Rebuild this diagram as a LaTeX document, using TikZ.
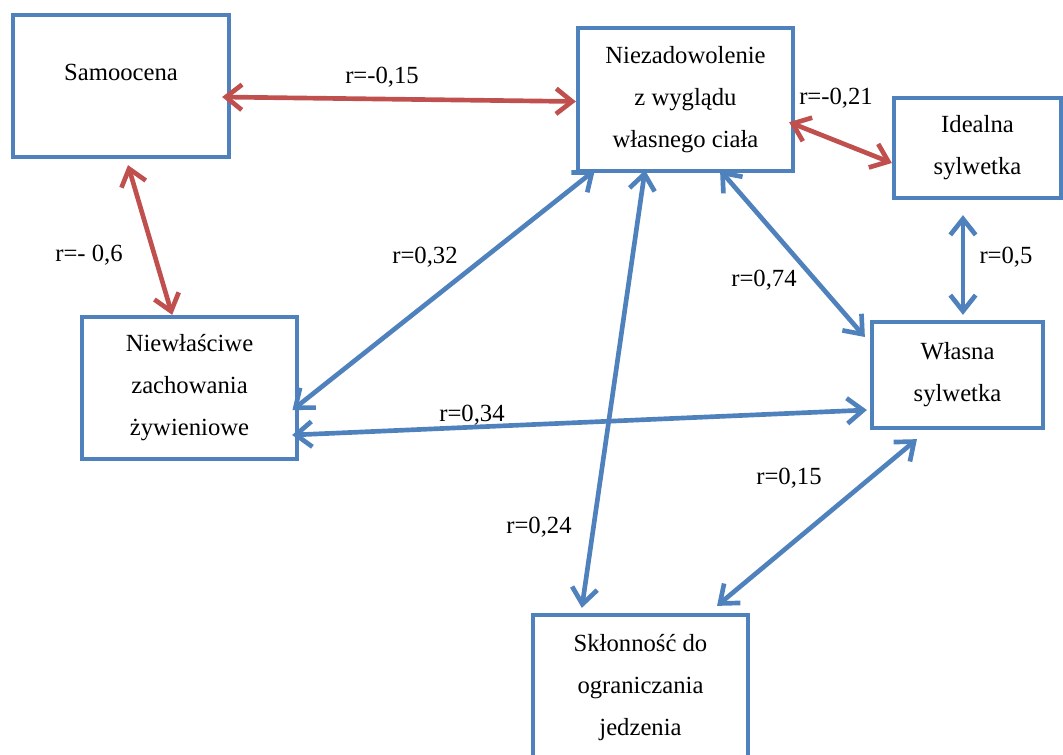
\documentclass[tikz,border=0pt]{standalone}
\usepackage{fontspec}
\setmainfont{Liberation Serif}
\usetikzlibrary{arrows.meta}
\definecolor{boxblue}{HTML}{4F81BD}
\definecolor{linkred}{HTML}{C0504D}
\begin{document}
\begin{tikzpicture}[x=0.75pt,y=-0.75pt,
        font=\fontsize{18.5}{31.5}\selectfont,
        box/.style={draw=boxblue,line width=3.2pt,align=center,inner sep=0pt},
        link/.style={line width=3.5pt,{Straight Barb[length=12pt,width=19pt]}-{Straight Barb[length=12pt,width=19pt]}},
        bluelink/.style={link,draw=boxblue},
        redlink/.style={link,draw=linkred}]
        \useasboundingbox (0,0) rectangle (1063,754);
        \node[box,minimum width=162pt,minimum height=106.5pt] (samo) at (121,86) {};
        \node (samotext) at (121,72) {Samoocena};
        \node[box,minimum width=161.25pt,minimum height=107.25pt] (niez) at (685.5,99.5) {Niezadowolenie\\z wyglądu\\własnego ciała};
        \node[box,minimum width=125.25pt,minimum height=75pt] (ideal) at (977.5,148) {Idealna\\sylwetka};
        \node[box,minimum width=161.25pt,minimum height=106.5pt] (niew) at (189.5,388) {Niewłaściwe\\zachowania\\żywieniowe};
        \node[box,minimum width=128.25pt,minimum height=79.5pt] (wlasna) at (957.5,375) {Własna\\sylwetka};
        \node[box,minimum width=161.25pt,minimum height=108.75pt] (sklon) at (640.5,687.5) {Skłonność do\\ograniczania\\jedzenia};
        \draw[redlink] ([xshift=-6.75pt,yshift=-8.25pt]samo.east) -- ([yshift=-1.5pt]niez.west);
        \draw[redlink] ([xshift=5.25pt,yshift=-4.5pt]samo.south) -- ([xshift=-13pt]niew.north);
        \draw[redlink] ([xshift=-4.5pt,yshift=-17pt]niez.east) -- ([yshift=-11.25pt]ideal.west);
        \draw[bluelink] ([xshift=-68pt,yshift=2.25pt]niez.south) -- ([xshift=-5pt,yshift=-16.5pt]niew.east);
        \draw[bluelink] ([xshift=-30.4pt,yshift=2.25pt]niez.south) -- ([xshift=-44pt,yshift=3.75pt]sklon.north);
        \draw[bluelink] ([xshift=25.9pt,yshift=2.25pt]niez.south) -- ([xshift=-3.75pt,yshift=28.5pt]wlasna.west);
        \draw[bluelink] ([xshift=-10.9pt,yshift=-11.25pt]ideal.south) -- ([xshift=-10.9pt,yshift=3.75pt]ideal.south |- wlasna.north);
        \draw[bluelink] ([xshift=-5.25pt,yshift=-35.25pt]niew.east) -- ([xshift=-2.25pt,yshift=-26.25pt]wlasna.west);
        \draw[bluelink] ([xshift=-30.4pt,yshift=-6.75pt]wlasna.south) -- ([xshift=57.4pt,yshift=5.25pt]sklon.north);
        \node (rsamoniez) at (382,77) {r=-0,15};
        \node (rniezideal) at (836,98) {r=-0,21};
        \node (rsamoniew) at (89,255) {r=- 0,6};
        \node (rniezniew) at (425,257) {r=0,32};
        \node (rniezwlasna) at (764,280) {r=0,74};
        \node (ridealwlasna) at (1006,257) {r=0,5};
        \node (rniewwlasna) at (472,415) {r=0,34};
        \node (rniezsklon) at (539,527) {r=0,24};
        \node (rwlasnasklon) at (789,478) {r=0,15};
\end{tikzpicture}
\end{document}
